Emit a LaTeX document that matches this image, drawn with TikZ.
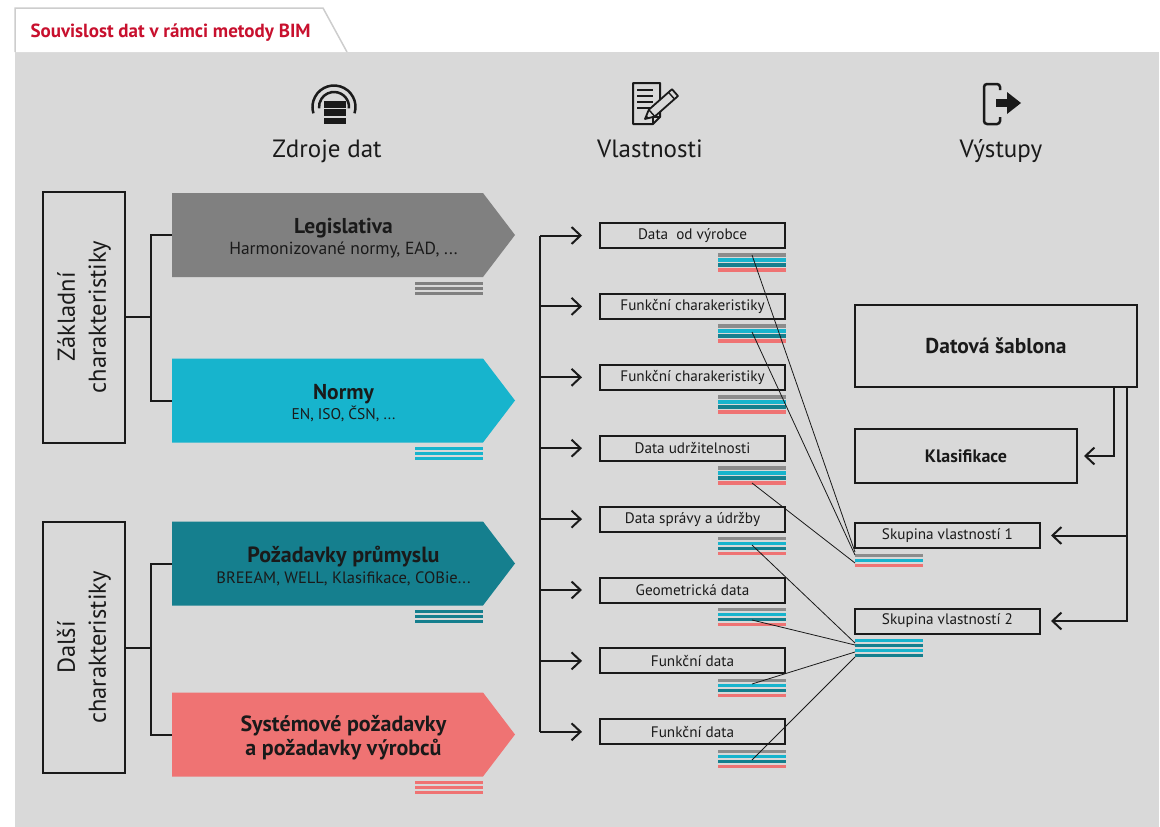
\documentclass[tikz,border=0pt]{standalone}
\usepackage{fontspec}
\setmainfont{PT Sans}
\usetikzlibrary{arrows.meta,calc}
\definecolor{panel}{RGB}{217,217,217}
\definecolor{cgray}{RGB}{128,128,128}
\definecolor{sgray}{RGB}{140,140,140}
\definecolor{ccyan}{RGB}{23,180,205}
\definecolor{cteal}{RGB}{21,127,142}
\definecolor{csalmon}{RGB}{239,115,115}
\definecolor{ctitle}{RGB}{200,16,46}
\definecolor{ink}{RGB}{26,26,26}
\definecolor{tabline}{RGB}{205,205,205}
\newcommand\fsz[2]{\fontsize{#1pt}{#2pt}\selectfont}
\newcommand\srcarrow[5]{%
  \fill[#3] (172,#2) -- (483,#2) -- (515,#2+42) -- (483,#2+84) -- (172,#2+84) -- cycle;
  \node[srcshape] (#1) at (343.5,#2+42) {};
  \node[srctext,#5] (#1t) at (343.5,#2+45) {#4};
  \foreach \k in {6,11,16}{\draw[#3,stripe] (415,#2+84+\k) -- (483,#2+84+\k);}
}
\newcommand\mstripes[1]{%
  \draw[sgray,mstripe] (718,#1+7) -- (786,#1+7);
  \draw[ccyan,mstripe] (718,#1+12) -- (786,#1+12);
  \draw[cteal,mstripe] (718,#1+17) -- (786,#1+17);
  \draw[csalmon,mstripe] (718,#1+22) -- (786,#1+22);
}
\begin{document}
\begin{tikzpicture}[x=1pt,y=-1pt,
  srcshape/.style={minimum width=343pt,minimum height=84pt,inner sep=0pt},
  srctext/.style={inner sep=0pt,align=center,text=ink,font=\fsz{17}{21}},
  stripe/.style={line width=3pt},
  mstripe/.style={line width=3.6pt},
  mbox/.style={draw=ink,line width=2pt,minimum width=185pt,minimum height=25pt,inner sep=0pt,font=\fsz{15.2}{17},text=ink},
  rbox/.style={draw=ink,line width=2pt,inner sep=0pt,text=ink},
  lbox/.style={draw=ink,line width=2pt,minimum width=82pt,minimum height=251pt,inner sep=0pt},
  ltext/.style={rotate=90,align=center,font=\fsz{24.5}{31},text=ink},
  head/.style={anchor=base,font=\fsz{25}{28},text=ink},
  conn/.style={draw=ink,line width=2pt},
  arr/.style={draw=ink,line width=2pt,-{Straight Barb[length=9pt,width=17pt]}},
  thin/.style={draw=ink,line width=0.8pt},
  icon/.style={draw=ink,line width=2.5pt}]
\useasboundingbox (0,0) rectangle (1160,827);
% panel and tab
\fill[panel] (15,52) rectangle (1159,827);
\filldraw[fill=white,draw=tabline,line width=1.5pt] (15,52) -- (15,8) -- (323,8) -- (347,52);
\node[anchor=base west,font=\bfseries\fsz{19}{21},text=ctitle] (title) at (27,37) {Souvislost dat v rámci metody BIM};

% icons
\draw[icon] ([shift={(17:21.5)}]334,107) arc[start angle=17,end angle=-197,radius=21.5];
\draw[icon] ([shift={(5:15)}]334,107) arc[start angle=5,end angle=-185,radius=15];
\fill[ink] (323.5,101) rectangle (345.5,107.5);
\fill[ink] (323.5,109.2) rectangle (345.5,115.8);
\fill[ink] (323.5,117.5) rectangle (345.5,124);

\draw[draw=ink,line width=2pt,line join=round] (633,83) -- (660,83) -- (660,117) -- (653,124) -- (633,124) -- cycle;
\draw[draw=ink,line width=1.6pt] (653,124) -- (653,117) -- (660,117);
\foreach \yy in {90,96,102,108}{\draw[draw=ink,line width=1.6pt] (637,\yy) -- (653,\yy);}
\filldraw[fill=panel,draw=ink,line width=1.8pt,line join=round] (645,119) -- (654.8,116.5) -- (678,96) -- (672,89.2) -- (648.8,109.7) -- cycle;
\draw[draw=ink,line width=1.4pt] (654.8,116.5) -- (648.8,109.7);
\draw[draw=ink,line width=1.4pt] (674.5,99.1) -- (668.5,92.3);
\fill[ink] (645,119) -- (648.5,117.8) -- (646.8,115.6) -- cycle;

\draw[icon,rounded corners=3pt] (1000,90) -- (1000,84) -- (984,84) -- (984,124) -- (1000,124) -- (1000,117);
\fill[ink] (996,99) rectangle (1008,107);
\fill[ink] (1007,92) -- (1021,103) -- (1007,114) -- cycle;

% headings
\node[head] (h1) at (327,157) {Zdroje dat};
\node[head] (h2) at (650,157) {Vlastnosti};
\node[head] (h3) at (1001,157) {Výstupy};

% source arrows
\srcarrow{leg}{193}{cgray}{{\bfseries\fsz{21.5}{23}Legislativa}\\{\fsz{17.5}{19}Harmonizované normy, EAD, ...}}{}
\srcarrow{nor}{358.5}{ccyan}{{\bfseries\fsz{21.5}{23}Normy}\\{\fsz{15.5}{18}EN, ISO, ČSN, ...}}{font=\fsz{16}{20}}
\srcarrow{poz}{521.5}{cteal}{{\bfseries\fsz{22}{24}Požadavky průmyslu}\\{\fsz{16.5}{18}BREEAM, WELL, Klasifikace, COBie...}}{}
\srcarrow{sys}{692.5}{csalmon}{{\bfseries\fsz{22}{24}Systémové požadavky}\\{\bfseries\fsz{22}{24}a požadavky výrobců}}{font=\fsz{22}{23.5}}

% left boxes
\node[lbox] (zak) at (84,317) {};
\node[ltext] (zakt) at (zak.center) {Základní\\charakteristiky};
\node[lbox] (dal) at (84,647.5) {};
\node[ltext] (dalt) at (dal.center) {Další\\charakteristiky};
\draw[conn] (leg.west) -| ($(zak.east)+(25,0)$) |- (nor.west);
\draw[conn] (zak.east) -- ++(25,0);
\draw[conn] (poz.west) -| ($(dal.east)+(25,0)$) |- (sys.west);
\draw[conn] (dal.east) -- ++(25,0);

% middle boxes
\node[mbox] (b1) at (692.5,235.5) {Data\ \ od výrobce};
\node[mbox] (b2) at (692.5,306.4) {Funkční charakeristiky};
\node[mbox] (b3) at (692.5,377.3) {Funkční charakeristiky};
\node[mbox] (b4) at (692.5,448.2) {Data udržitelnosti};
\node[mbox] (b5) at (692.5,519.1) {Data správy a údržby};
\node[mbox] (b6) at (692.5,590) {Geometrická data};
\node[mbox] (b7) at (692.5,660.9) {Funkční data};
\node[mbox] (b8) at (692.5,731.8) {Funkční data};
\mstripes{248}
\mstripes{318.9}
\mstripes{389.8}
\mstripes{460.7}
\mstripes{531.6}
\mstripes{602.5}
\mstripes{673.4}
\mstripes{744.3}

\coordinate (trunk) at (540,0);
\draw[conn] (b8.west -| trunk) -- (b1.west -| trunk);
\foreach \b in {b1,b2,b3,b4,b5,b6,b7,b8}{\draw[arr,shorten >=17pt] (\b.west -| trunk) -- (\b.west);}

% right boxes
\node[rbox,minimum width=282pt,minimum height=82pt,font=\bfseries\fsz{21.5}{23}] (dat) at (996,346) {Datová šablona};
\node[rbox,minimum width=222pt,minimum height=54pt,font=\bfseries\fsz{18}{20}] (kla) at (966,456) {Klasifikace};
\node[mbox] (sk1) at (947.5,535.5) {Skupina vlastností 1};
\node[mbox] (sk2) at (947.5,621) {Skupina vlastností 2};
\draw[sgray,stripe] (855,555) -- (923,555);
\draw[ccyan,stripe] (855,560) -- (923,560);
\draw[csalmon,stripe] (855,565) -- (923,565);
\draw[ccyan,stripe] (855,640) -- (923,640);
\draw[cteal,stripe] (855,645) -- (923,645);
\draw[ccyan,stripe] (855,650) -- (923,650);
\draw[cteal,stripe] (855,655) -- (923,655);

\coordinate (ra) at ($(dat.south east)+(-24,0)$);
\coordinate (rb) at ($(dat.south east)+(-11,0)$);
\draw[arr,shorten >=6pt] (ra) |- (kla.east);
\draw[arr,shorten >=10pt] (rb) |- (sk2.east);
\draw[arr,shorten >=10pt] (sk1.east -| rb) -- (sk1.east);

% thin links
\coordinate (p1) at (752,255);
\coordinate (p2) at (752,332);
\coordinate (p4) at (752,483);
\coordinate (p5) at (752,545);
\coordinate (p6) at (752,620);
\coordinate (p7) at (752,684);
\coordinate (p8) at (752,760);
\coordinate (q1) at (855,552);
\coordinate (q2) at (855,555);
\coordinate (q4) at (855,563);
\coordinate (q5) at (855,643);
\coordinate (q6) at (855,645);
\coordinate (q7) at (855,652);
\coordinate (q8) at (855,657);
\foreach \i in {1,2,4,5,6,7,8}{\draw[thin] (p\i) -- (q\i);}
\end{tikzpicture}
\end{document}
